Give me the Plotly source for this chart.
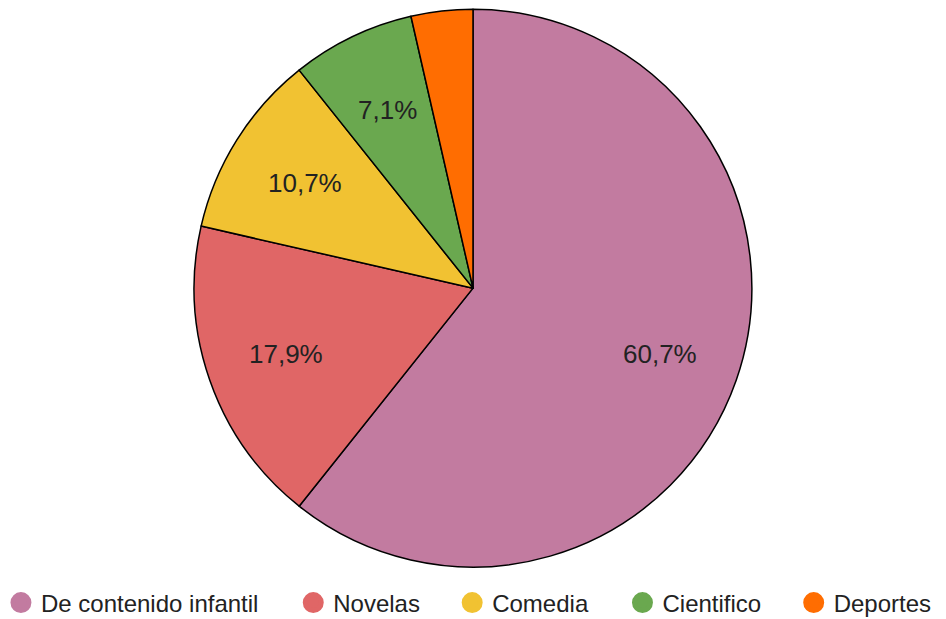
import math
import plotly.graph_objects as go

categories = ["De contenido infantil", "Novelas", "Comedia", "Cientifico", "Deportes"]
counts = [17, 5, 3, 2, 1]
colors = ["#C27BA0", "#E06666", "#F1C232", "#6AA84F", "#FF6D01"]
show_label = [True, True, True, True, False]
legend_x = [0.001, 0.31, 0.478, 0.658, 0.839]

W, H = 946, 619
dom_y = [0.084, 0.985]
R = (dom_y[1] - dom_y[0]) * H / 2          # pie radius in px
cx = W / 2
cy = H * (1 - (dom_y[0] + dom_y[1]) / 2)   # pie centre from top in px
LABEL_FRAC = 0.71

fig = go.Figure()
fig.add_trace(go.Pie(
    labels=categories, values=counts,
    marker=dict(colors=colors, line=dict(color="#000000", width=1.5)),
    sort=False, direction="clockwise", rotation=0,
    textinfo="none",
    showlegend=False, hoverinfo="label+percent",
    domain=dict(x=[0, 1], y=dom_y),
))

# percentage labels at mid-angle of each slice
total = sum(counts)
annotations = []
acc = 0
for c, s in zip(counts, show_label):
    mid = (acc + c / 2) / total * 2 * math.pi
    acc += c
    if not s:
        continue
    annotations.append(dict(
        x=LABEL_FRAC * math.sin(mid), y=LABEL_FRAC * math.cos(mid),
        xref="x", yref="y", showarrow=False,
        text=f"{100 * c / total:.1f}%".replace(".", ","),
        font=dict(family="Liberation Sans, Arial", size=26, color="#222222"),
    ))

for i, (c, col) in enumerate(zip(categories, colors)):
    lg = "legend" if i == 0 else f"legend{i+1}"
    fig.add_trace(go.Scatter(
        x=[None], y=[None], mode="markers", name=c, legend=lg,
        marker=dict(symbol="circle", size=16, color=col, line=dict(color=col, width=5)),
    ))

leg_common = dict(orientation="h", xanchor="left", y=(H - 603) / H, yanchor="middle",
                  xref="container", yref="container",
                  font=dict(family="Liberation Sans, Arial", size=24, color="#222222"),
                  itemclick=False, bgcolor="rgba(0,0,0,0)")
legends = {("legend" if i == 0 else f"legend{i+1}"): dict(x=x, **leg_common)
           for i, x in enumerate(legend_x)}

fig.update_layout(
    width=W, height=H,
    margin=dict(l=0, r=0, t=0, b=0, autoexpand=False),
    paper_bgcolor="white", plot_bgcolor="rgba(0,0,0,0)",
    xaxis=dict(visible=False, range=[-cx / R, (W - cx) / R], fixedrange=True),
    yaxis=dict(visible=False, range=[-(H - cy) / R, cy / R], fixedrange=True),
    font=dict(family="Liberation Sans, Arial"),
    annotations=annotations,
    **legends,
)
fig.write_html("out.html")
